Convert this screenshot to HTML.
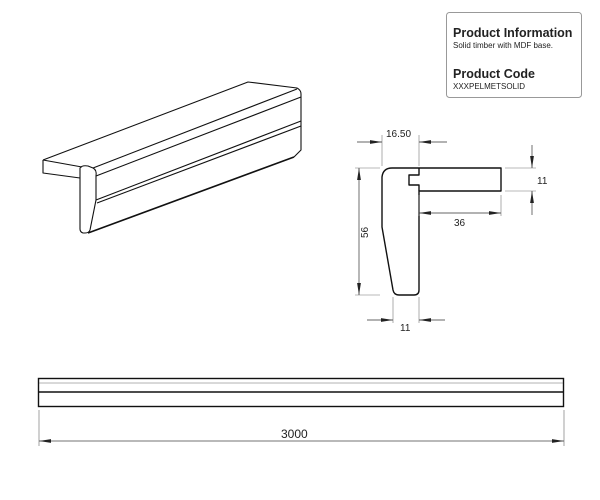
<!DOCTYPE html>
<html><head><meta charset="utf-8"><style>
html,body{margin:0;padding:0;background:#fff;}
svg{display:block;}
text{font-family:"Liberation Sans",sans-serif;fill:#222;}
</style></head><body>
<svg width="600" height="500" viewBox="0 0 600 500" xmlns="http://www.w3.org/2000/svg">
<defs>
<marker id="a" viewBox="0 0 12 5" refX="12" refY="2.5" markerWidth="12" markerHeight="5" markerUnits="userSpaceOnUse" orient="auto"><path d="M0,0.6 L12,2.5 L0,4.4z" fill="#222"/></marker>
</defs>
<!-- info box -->
<rect x="446.5" y="12.5" width="135" height="85" rx="3" fill="#fff" stroke="#999"/>
<text x="453" y="37" font-size="12.5" font-weight="bold">Product Information</text>
<text x="453" y="48" font-size="8">Solid timber with MDF base.</text>
<text x="453" y="78" font-size="12.5" font-weight="bold">Product Code</text>
<text x="453" y="89" font-size="8">XXXPELMETSOLID</text>

<!-- 3D view -->
<g fill="none" stroke="#111" stroke-width="1.1" stroke-linejoin="round">
<path d="M43,160 L248,82 L297,88 Q301,90 301,94 L301,150 L294,157"/>
<path d="M43,160 L43,173 L80,178"/>
<path d="M43,160 L82,167"/>
<path d="M80,168 Q82,165 88,166 L93,168 Q97,170 96,176 L96,200 L90,230 Q89,233 85,233 L83,233 Q80,232 80,229 Z"/>
<path d="M93,168 L297,89"/>
<path d="M96,176 L301,97"/>
<path d="M96,200 L301,121"/>
<path d="M97,203 L301,126"/>
<path d="M88,233 L294,157" stroke-width="1.6"/>
</g>

<!-- section -->
<g fill="none" stroke="#111" stroke-width="1.4" stroke-linejoin="round">
<path d="M392,168 L501,168 L501,191 L419,191 L419,290 Q419,295 414,295 L399,295 Q394,295 393,290 L382,227 L382,177 Q383,168 392,168"/>
<path d="M419,168 L419,175 L409,175 L409,185 L419,185 L419,191"/>
</g>
<g stroke="#777" stroke-width="0.6" fill="none">
<path d="M382,135 V166 M419,135 V166"/>
<path d="M505,168 H536 M505,191 H536"/>
<path d="M355,168 H380 M355,295 H380"/>
<path d="M393,297 V323 M419,297 V323"/>
<path d="M419,195 V216 M501,195 V216"/>
</g>
<g stroke="#333" stroke-width="0.7" fill="none">
<path d="M357,142 H382" marker-end="url(#a)"/>
<path d="M447,142 H419" marker-end="url(#a)"/>
<path d="M532,145 V168" marker-end="url(#a)"/>
<path d="M532,215 V191" marker-end="url(#a)"/>
<path d="M460,213 H419" marker-end="url(#a)"/>
<path d="M460,213 H501" marker-end="url(#a)"/>
<path d="M359,230 V168" marker-end="url(#a)"/>
<path d="M359,230 V295" marker-end="url(#a)"/>
<path d="M367,320 H393" marker-end="url(#a)"/>
<path d="M445,320 H419" marker-end="url(#a)"/>
</g>
<text x="386" y="137" font-size="10">16.50</text>
<text x="537" y="184" font-size="10">11</text>
<text x="454" y="226" font-size="10">36</text>
<text x="368" y="238" font-size="10" transform="rotate(-90 368 238)">56</text>
<text x="400" y="331" font-size="10">11</text>

<!-- long bar -->
<g fill="none" stroke="#111">
<rect x="38.5" y="378.5" width="525" height="28" stroke-width="1.4"/>
<path d="M39,392 H563" stroke-width="1.6"/>
<path d="M39,383 H563" stroke-width="0.5" stroke="#666"/>
</g>
<g stroke="#666" stroke-width="0.6">
<path d="M39,410 V446 M564,410 V446"/>
</g>
<g stroke="#444" stroke-width="0.7">
<path d="M300,441 H39" marker-end="url(#a)"/>
<path d="M300,441 H564" marker-end="url(#a)"/>
</g>
<text x="281" y="438" font-size="12">3000</text>
</svg>
</body></html>
